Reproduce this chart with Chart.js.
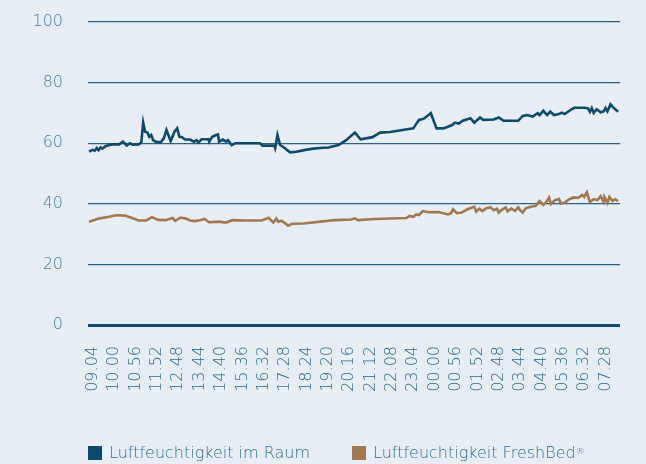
<!DOCTYPE html>
<html lang="de">
<head>
<meta charset="utf-8">
<title>Luftfeuchtigkeit</title>
<script src="https://cdn.jsdelivr.net/npm/chart.js@4.4.1/dist/chart.umd.min.js"></script>
<style>
  html, body { margin: 0; padding: 0; background: #e8eef5; }
  #wrap { position: relative; width: 646px; height: 464px; }
  #legend {
    position: absolute; left: 0; top: 443px; width: 646px; height: 20px;
    font-family: "DejaVu Sans", sans-serif; font-weight: 200; font-size: 16px; color: #346e92;
  }
  #legend .item { position: absolute; top: 0; display: flex; align-items: center; white-space: nowrap; }
  #legend .box { width: 14px; height: 14px; margin-right: 7px; }
  #legend sup { font-size: 9px; position: relative; top: -2px; }
</style>
</head>
<body>
<div id="wrap">
  <canvas id="chart" width="646" height="464"></canvas>
  <div id="legend">
    <div class="item" style="left:88px"><span class="box" style="background:#0d4a6c"></span>Luftfeuchtigkeit im Raum</div>
    <div class="item" style="left:352px"><span class="box" style="background:#a1784f"></span>Luftfeuchtigkeit FreshBed<sup>®</sup></div>
  </div>
</div>
<script>
// tick labels every 56 minutes, starting 09.04
const tickLabels = [
  "09.04", "10.00", "10.56", "11.52", "12.48", "13.44", "14.40", "15.36",
  "16.32", "17.28", "18.24", "19.20", "20.16", "21.12", "22.08", "23.04",
  "00.00", "00.56", "01.52", "02.48", "03.44", "04.40", "05.36", "06.32", "07.28"
];
const tickStep = 56; // minutes

// Luftfeuchtigkeit im Raum: minutes since 09.04 / humidity %
const raumT = [
  -10, -1, 5, 10, 15, 20, 25, 33, 43, 51, 69, 79, 89, 97, 104, 120, 127, 132, 137, 143,
  148, 153, 158, 165, 178, 186, 193, 204, 214, 221, 227, 234, 242, 255, 265, 272, 277, 285,
  303, 305, 313, 323, 328, 331, 341, 349, 354, 364, 374, 438, 445, 476, 478, 484, 491, 501,
  517, 534, 557, 578, 603, 618, 644, 664, 687, 702, 733, 753, 779, 840, 855, 868, 886, 901,
  919, 942, 949, 959, 970, 990, 1000, 1015, 1023, 1051, 1064, 1077, 1115, 1127, 1138, 1153,
  1166, 1171, 1181, 1191, 1199, 1209, 1222, 1229, 1237, 1255, 1262, 1288, 1298, 1303, 1308,
  1313, 1321, 1331, 1339, 1344, 1349, 1357, 1364, 1377
];
const raumV = [
  57.2, 57.8, 57.5, 58.4, 57.7, 58.6, 58.2, 59.0, 59.4, 59.6, 59.6, 60.5, 59.2, 60.0, 59.5, 59.6, 60.2, 66.8, 63.8, 63.5,
  62.1, 62.7, 61.0, 60.5, 60.3, 61.6, 64.4, 60.7, 63.8, 64.9, 62.1, 62.0, 61.2, 61.2, 60.5, 61.0, 60.2, 61.3,
  61.3, 60.5, 62.1, 62.7, 62.9, 60.5, 61.2, 60.5, 61.0, 59.4, 60.0, 60.0, 59.2, 59.2, 58.4, 62.7, 59.4, 58.6,
  57.0, 57.2, 57.8, 58.2, 58.5, 58.6, 59.4, 61.0, 63.5, 61.3, 62.0, 63.5, 63.7, 64.9, 67.7, 68.1, 69.9, 64.9,
  64.9, 66.0, 66.8, 66.5, 67.4, 68.2, 66.8, 68.5, 67.7, 67.8, 68.5, 67.4, 67.4, 69.0, 69.3, 68.8,
  69.9, 69.3, 70.7, 69.3, 70.4, 69.3, 69.6, 70.1, 69.6, 71.2, 71.7, 71.7, 71.5, 70.4, 71.6,
  70.0, 71.2, 70.2, 70.5, 71.6, 70.5, 72.8, 71.8, 70.4
];

// Luftfeuchtigkeit FreshBed: minutes since 09.04 / humidity %
const bedT = [
  -10, 18, 43, 61, 84, 99, 120, 140, 155, 171, 191, 209, 216, 229, 242, 255, 267, 280, 293, 305,
  331, 349, 366, 400, 443, 461, 473, 481, 486, 494, 501, 512, 522, 552, 603, 618, 636, 677, 687,
  695, 738, 822, 830, 840, 848, 855, 865, 881, 906, 931, 939, 944, 954, 967, 982, 1000, 1005,
  1013, 1021, 1031, 1043, 1051, 1059, 1064, 1071, 1082, 1087, 1097, 1107, 1115, 1120, 1127, 1135,
  1148, 1161, 1171, 1181, 1189, 1196, 1201, 1211, 1222, 1227, 1237, 1247, 1260, 1273, 1283, 1288,
  1295, 1303, 1313, 1323, 1331, 1339, 1341, 1349, 1354, 1362, 1369, 1377
];
const bedV = [
  34.1, 35.2, 35.7, 36.2, 36.1, 35.5, 34.5, 34.5, 35.6, 34.7, 34.6, 35.3, 34.4, 35.4, 35.2, 34.5, 34.3, 34.6, 35.0, 33.9,
  34.1, 33.8, 34.6, 34.5, 34.5, 35.4, 33.8, 35.1, 34.0, 34.4, 33.9, 32.8, 33.4, 33.5, 34.2, 34.4, 34.6, 34.8, 35.2,
  34.6, 35.0, 35.3, 36.0, 35.7, 36.5, 36.3, 37.6, 37.2, 37.3, 36.5, 36.9, 38.2, 36.9, 37.1, 38.2, 39.0, 37.4,
  38.4, 37.6, 38.5, 38.8, 37.9, 38.4, 37.1, 37.9, 38.8, 37.5, 38.4, 37.7, 38.8, 37.9, 37.1, 38.5,
  39.0, 39.3, 40.9, 39.6, 40.6, 42.1, 39.9, 41.2, 41.6, 40.1, 40.3, 41.4, 42.1, 42.0, 42.9, 42.3,
  43.8, 40.6, 41.5, 41.2, 42.5, 40.6, 42.3, 40.3, 42.3, 40.9, 41.5, 40.9
];

const toPoints = (ts, vs) => ts.map((t, i) => ({ x: t, y: vs[i] }));

const tickFont = { family: "DejaVu Sans", size: 16, weight: 200 };

new Chart(document.getElementById("chart").getContext("2d"), {
  type: "line",
  data: {
    datasets: [
      {
        label: "Luftfeuchtigkeit im Raum",
        data: toPoints(raumT, raumV),
        borderColor: "#0d4a6c",
        borderWidth: 2.6,
        pointRadius: 0,
        tension: 0,
      },
      {
        label: "Luftfeuchtigkeit FreshBed®",
        data: toPoints(bedT, bedV),
        borderColor: "#a1784f",
        borderWidth: 2.6,
        pointRadius: 0,
        tension: 0,
      },
    ],
  },
  options: {
    responsive: false,
    animation: false,
    layout: { padding: { top: 22, right: 10, left: 0, bottom: 0 } },
    plugins: {
      legend: { display: false },
      tooltip: { enabled: false },
    },
    scales: {
      x: {
        type: "linear",
        min: -12.7,
        max: 1382,
        afterBuildTicks: (scale) => {
          scale.ticks = tickLabels.map((_, i) => ({ value: i * tickStep }));
        },
        afterFit: (scale) => { scale.height = 139; },
        grid: { display: false, drawTicks: false },
        border: { display: false },
        ticks: {
          autoSkip: false,
          minRotation: 90,
          maxRotation: 90,
          padding: 21,
          color: "#2a6890",
          font: tickFont,
          callback: (value, index) => tickLabels[index],
        },
      },
      y: {
        min: 0,
        max: 100,
        afterFit: (scale) => {
          scale.width = 88;
          scale.paddingTop = 0;
          scale.paddingBottom = 0;
        },
        grid: {
          drawTicks: false,
          color: (ctx) => (ctx.tick && ctx.tick.value === 0 ? "#0d4a6c" : "#2a6288"),
          lineWidth: (ctx) => (ctx.tick && ctx.tick.value === 0 ? 3 : 1.2),
        },
        border: { display: false },
        ticks: {
          stepSize: 20,
          padding: 25,
          color: "#467ea2",
          font: tickFont,
        },
      },
    },
  },
});
</script>
</body>
</html>
